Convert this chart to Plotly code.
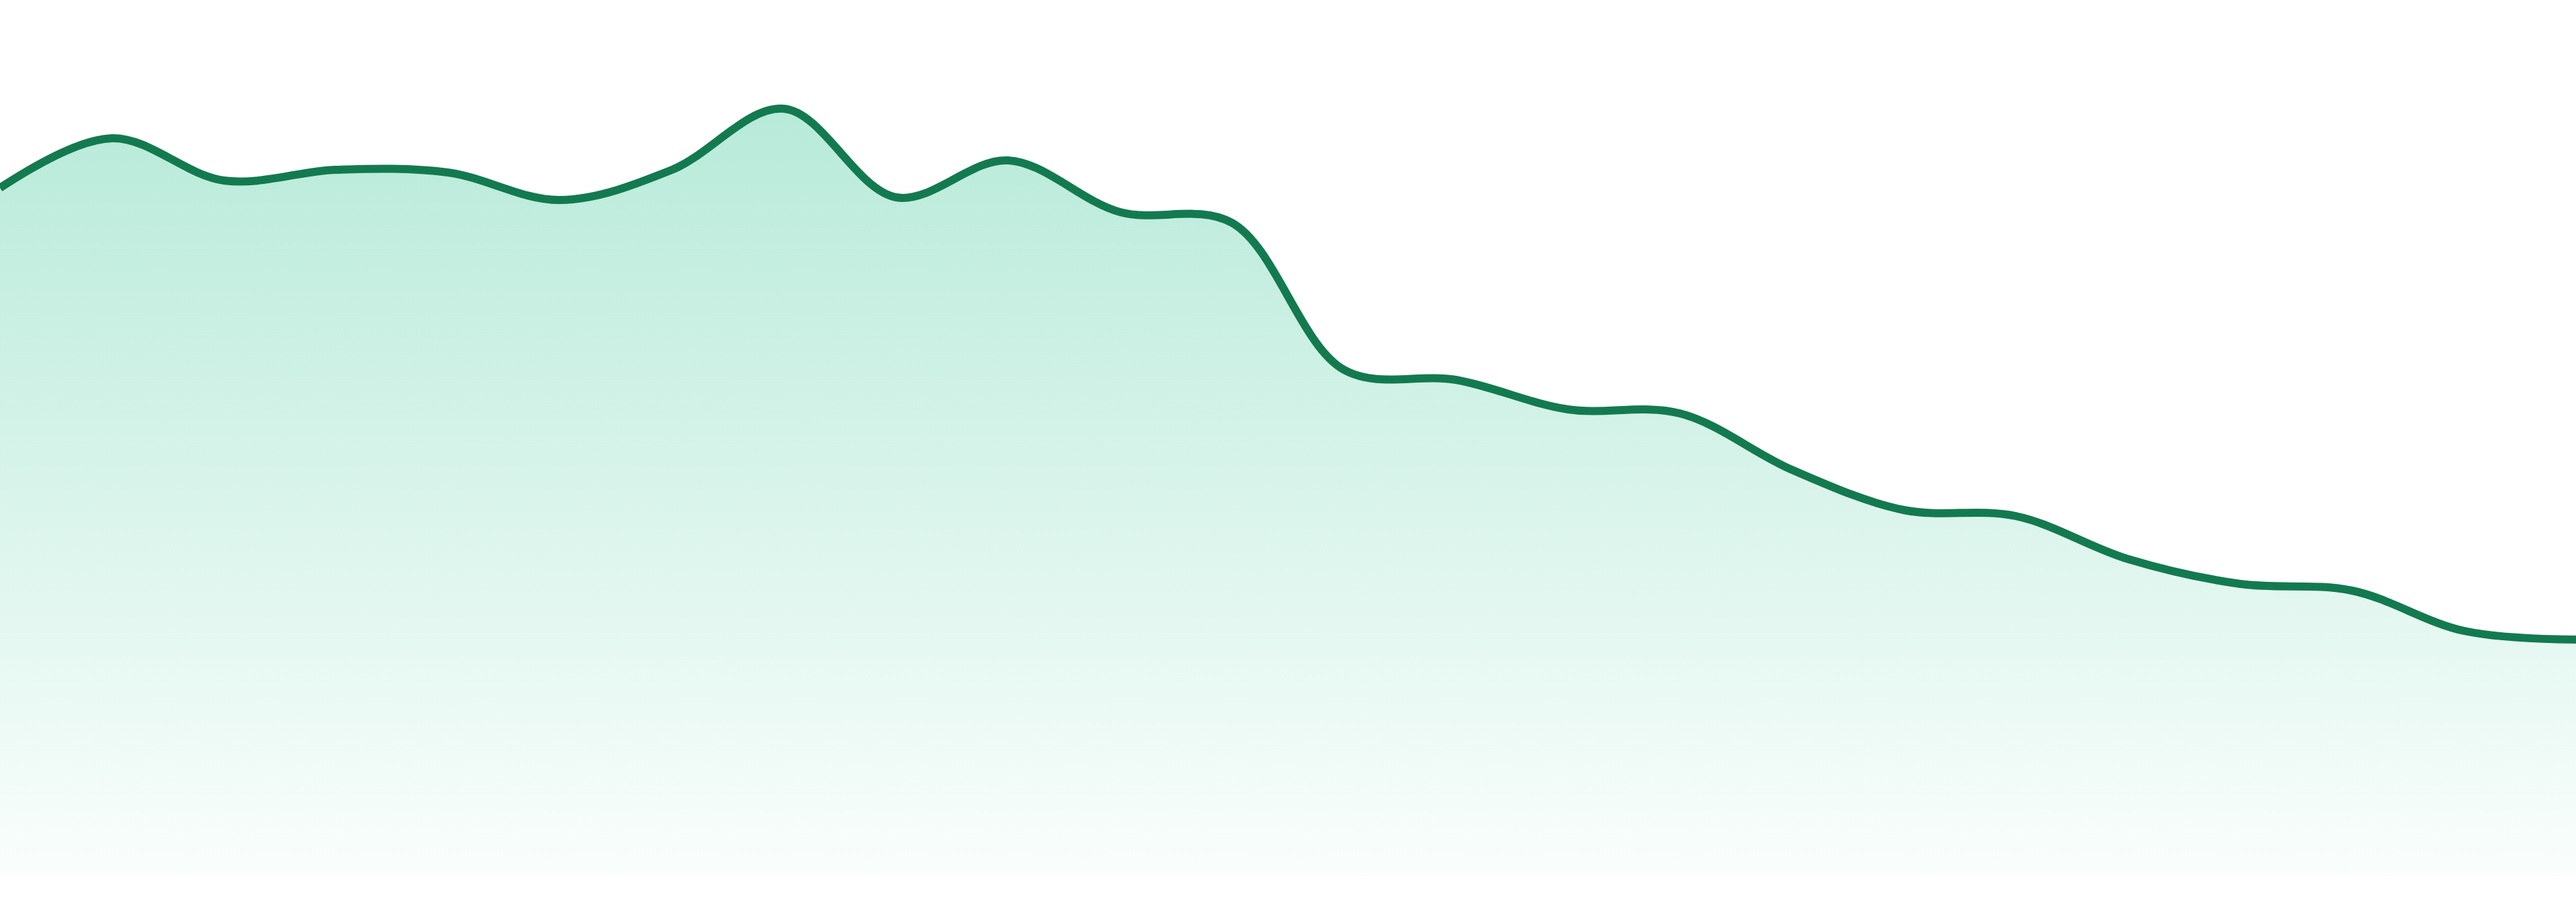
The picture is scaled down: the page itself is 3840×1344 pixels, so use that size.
import plotly.graph_objects as go

# periods along the x axis (no labels are shown on the chart)
periods = list(range(1, 25))

# values (axis hidden, 0 at the bottom of the fill)
values = [102.5, 109.9, 103.6, 105.2, 104.8, 100.7, 105.2, 114.3,
          101.1, 106.6, 98.9, 97.3, 75.4, 73.9, 69.5, 68.9,
          60.5, 54.5, 53.6, 47.2, 43.5, 42.5, 36.5, 35.2]

line_color = "#137a50"

trace = go.Scatter(
    x=periods,
    y=values,
    mode="lines",
    line=dict(color=line_color, width=12, shape="spline", smoothing=1),
    fill="tozeroy",
    fillgradient=dict(
        type="vertical",
        start=0,
        stop=max(values),
        colorscale=[[0, "rgba(16,185,129,0.02)"], [1, "rgba(16,185,129,0.30)"]],
    ),
    hoverinfo="skip",
)

layout = go.Layout(
    width=3840,
    height=1344,
    margin=dict(l=0, r=0, t=0, b=39),
    paper_bgcolor="white",
    plot_bgcolor="white",
    showlegend=False,
    xaxis=dict(range=[periods[0], periods[-1]], visible=False, fixedrange=True),
    yaxis=dict(range=[0, 130.5], visible=False, fixedrange=True),
)

fig = go.Figure(data=[trace], layout=layout)
# the page body has a default 8px margin, drop it so the chart sits flush
fig.write_html("out.html", config=dict(displayModeBar=False),
               post_script="document.body.style.margin='0';")
